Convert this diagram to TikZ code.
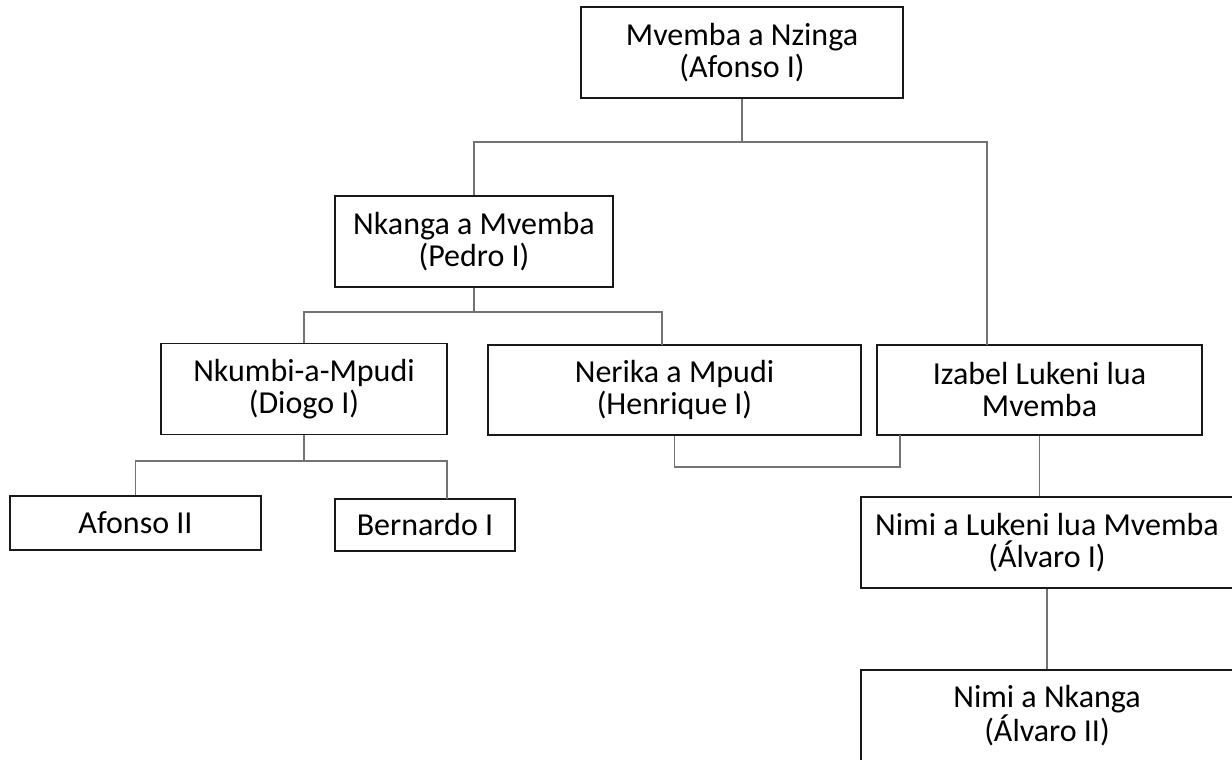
\documentclass[tikz,border=0pt]{standalone}
\usepackage{fontspec}
\setmainfont{Carlito}
\begin{document}
\begin{tikzpicture}[x=1pt,y=-1pt,
    king/.style={draw=black!90, line width=1.5pt, align=center, inner sep=0pt, font=\fontsize{32}{32}\selectfont},
    conn/.style={draw=black!55, line width=1.1pt}]
    \useasboundingbox (0,0) rectangle (1232,760);
    \node[king,minimum width=322pt,minimum height=91pt] (nzinga) at (742,52.5) {Mvemba a Nzinga\\(Afonso I)};
    \node[king,minimum width=278pt,minimum height=91pt] (pedro) at (474,241.5) {Nkanga a Mvemba\\(Pedro I)};
    \node[king,minimum width=286pt,minimum height=91pt] (diogo) at (304,389) {Nkumbi-a-Mpudi\\(Diogo I)};
    \node[king,minimum width=373pt,minimum height=90pt] (henrique) at (674.5,390) {Nerika a Mpudi\\(Henrique I)};
    \node[king,minimum width=325pt,minimum height=90pt] (izabel) at (1039.5,390) {Izabel Lukeni lua\\Mvemba};
    \node[king,minimum width=251pt,minimum height=54pt] (afonso) at (135.5,523) {Afonso II};
    \node[king,minimum width=180pt,minimum height=52pt] (bernardo) at (425,525) {Bernardo I};
    \node[king,minimum width=372pt,minimum height=91pt] (alvaro) at (1047,542.5) {Nimi a Lukeni lua Mvemba\\(Álvaro I)};
    \node[king,minimum width=372pt,minimum height=91pt] (alvarob) at (1047,715.5) {Nimi a Nkanga\\(Álvaro II)};
    % children of Afonso I
    \draw[conn] (nzinga.south) -- (742,142);
    \draw[conn] (pedro.north) |- (987,142) -- (987,345);
    % children of Pedro I
    \draw[conn] (pedro.south) -- (474,312);
    \draw[conn] (diogo.north) |- (662,312) -- (662,345);
    % children of Diogo I
    \draw[conn] (diogo.south) -- (304,461);
    \draw[conn] (afonso.north) |- (447,461) -- (447,499);
    % Henrique I and Izabel
    \draw[conn] (henrique.south) |- (900,467) -- (900,435);
    \draw[conn] (izabel.south) -- (izabel.south |- alvaro.north);
    \draw[conn] (alvaro.south) -- (alvarob.north);
\end{tikzpicture}
\end{document}
